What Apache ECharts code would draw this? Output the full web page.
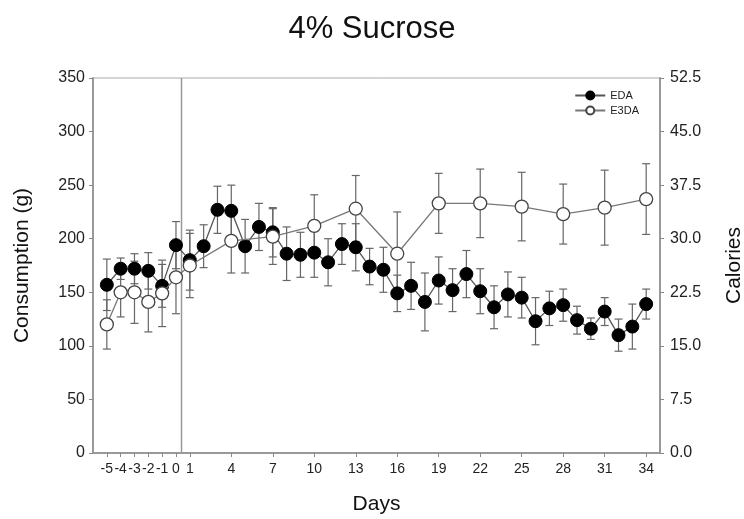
<!DOCTYPE html>
<html><head><meta charset="utf-8">
<script src="https://cdn.jsdelivr.net/npm/echarts@6/dist/echarts.min.js"></script>
<style>html,body{margin:0;padding:0;background:#fff}#c{width:744px;height:519px}</style>
</head><body><div id="c"></div>
<script>
var categories = [];
for (var d = -6; d <= 35; d++) categories.push(String(d));
var tickLabels = ['-5','-4','-3','-2','-1','0','1','4','7','10','13','16','19','22','25','28','31','34'];

var edaDays = ['-5','-4','-3','-2','-1','0','1','2','3','4','5','6','7','8','9','10','11','12','13','14','15','16','17','18','19','20','21','22','23','24','25','26','27','28','29','30','31','32','33','34'];
var edaValues = [157,172,172,170,156,194,180,193,227,226,193,211,206,186,185,187,178,195,192,174,171,149,156,141,161,152,167,151,136,148,145,123,135,138,124,116,132,110,118,139];
var edaErrors = [24,10,14,17,20,22,28,20,22,24,25,22,23,25,21,23,22,19,22,17,21,17,22,27,22,20,22,21,20,21,19,22,16,15,13,10,13,15,21,14];

var e3daDays = ['-5','-4','-3','-2','-1','0','1','4','7','10','13','16','19','22','25','28','31','34'];
var e3daValues = [120,150,150,141,149,164,175,198,202,212,228,186,233,233,230,223,229,237];
var e3daErrors = [23,23,29,28,31,34,30,30,26,29,31,39,28,32,32,28,35,33];

var dividerDay = 0.4;

function pairs(days, vals){ return days.map(function(d,i){return [d, vals[i]];}); }
function errData(days, vals, errs){ return days.map(function(d,i){return [d, vals[i]-errs[i], vals[i]+errs[i]];}); }

function errRender(params, api){
  var x = api.value(0);
  var lo = api.coord([x, api.value(1)]);
  var hi = api.coord([x, api.value(2)]);
  var w = 4;
  var st = {stroke:'#666', lineWidth:1.2};
  return {type:'group', children:[
    {type:'line', shape:{x1:lo[0],y1:lo[1],x2:hi[0],y2:hi[1]}, style:st},
    {type:'line', shape:{x1:lo[0]-w,y1:lo[1],x2:lo[0]+w,y2:lo[1]}, style:st},
    {type:'line', shape:{x1:hi[0]-w,y1:hi[1],x2:hi[0]+w,y2:hi[1]}, style:st}
  ]};
}

var chart = echarts.init(document.getElementById('c'));
var font = 'Liberation Sans, Arial, sans-serif';
chart.setOption({
  animation:false,
  textStyle:{fontFamily:font},
  title:{text:'4% Sucrose', left:'center', top:9, textStyle:{fontFamily:font, fontSize:31, fontWeight:'normal', color:'#111'}},
  legend:{top:85, right:100, orient:'vertical', itemWidth:30, itemHeight:10, itemGap:4,
    textStyle:{fontSize:11, color:'#222'}, data:['EDA','E3DA']},
  grid:{left:93, right:84, top:78, bottom:66, outerBoundsMode:'none', containLabel:false, show:true, borderColor:'#aaa', borderWidth:1},
  xAxis:{type:'category', data:categories, boundaryGap:false,
    name:'Days', nameLocation:'middle', nameGap:41, nameTextStyle:{fontSize:21, color:'#111'},
    axisLine:{lineStyle:{color:'#999', width:2}},
    axisTick:{interval:function(i,v){return tickLabels.indexOf(v)>=0;}, length:4, lineStyle:{color:'#888'}},
    axisLabel:{interval:function(i,v){return tickLabels.indexOf(v)>=0;}, fontSize:14, color:'#222', margin:9}},
  yAxis:[
    {type:'value', min:0, max:350, interval:50, position:'left',
     name:'Consumption (g)', nameLocation:'middle', nameGap:60, nameTextStyle:{fontSize:21, color:'#111'},
     axisLine:{show:true, lineStyle:{color:'#999', width:2}}, axisTick:{show:true, length:4, lineStyle:{color:'#888'}},
     axisLabel:{fontSize:16, color:'#222'}, splitLine:{show:false}},
    {type:'value', min:0, max:52.5, interval:7.5, position:'right',
     name:'Calories', nameLocation:'middle', nameGap:64, nameTextStyle:{fontSize:21, color:'#111'}, nameRotate:90,
     axisLine:{show:true, lineStyle:{color:'#999', width:2}}, axisTick:{show:true, length:4, lineStyle:{color:'#888'}},
     axisLabel:{fontSize:16, color:'#222', margin:10, formatter:function(v){return v.toFixed(1);}}, splitLine:{show:false}}
  ],
  series:[
    {type:'custom', name:'divider', silent:true, data:[[dividerDay]], z:1,
     renderItem:function(params, api){
       var d = api.value(0);
       var i0 = categories.indexOf('0');
       var a = api.coord([i0, 0]), b = api.coord([i0+1, 350]);
       var x = a[0] + (b[0]-a[0])*d;
       return {type:'line', shape:{x1:x,y1:a[1],x2:x,y2:b[1]}, style:{stroke:'#999', lineWidth:1.5}};
     }},
    {type:'custom', name:'EDAerr', data:errData(edaDays, edaValues, edaErrors), renderItem:errRender, encode:{x:0,y:[1,2]}, z:2},
    {type:'custom', name:'E3DAerr', data:errData(e3daDays, e3daValues, e3daErrors), renderItem:errRender, encode:{x:0,y:[1,2]}, z:2},
    {type:'line', name:'EDA', data:pairs(edaDays, edaValues), symbol:'circle', symbolSize:13, showAllSymbol:true,
     lineStyle:{color:'#555', width:1.3}, itemStyle:{color:'#000', borderColor:'#000', borderWidth:1}, z:3},
    {type:'line', name:'E3DA', data:pairs(e3daDays, e3daValues), symbol:'circle', symbolSize:13, showAllSymbol:true,
     lineStyle:{color:'#777', width:1.3}, itemStyle:{color:'#fff', borderColor:'#444', borderWidth:1.3}, z:4}
  ]
});
</script></body></html>
